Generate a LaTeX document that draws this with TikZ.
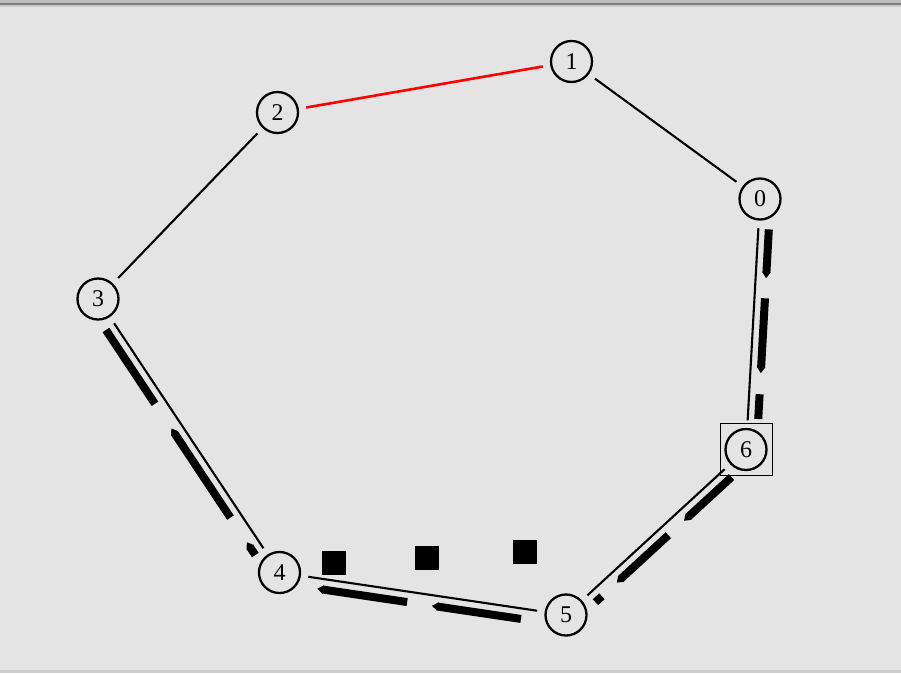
\documentclass[tikz,border=0pt]{standalone}
\usepackage{fontspec}
\setmainfont{Liberation Serif}
\usetikzlibrary{calc, arrows.meta}

\definecolor{panelbg}{HTML}{E4E4E4}
\definecolor{framelight}{HTML}{BDBDBD}
\definecolor{framedark}{HTML}{7F7F7F}
\definecolor{framebottom}{HTML}{CDCDCD}

% one thick stroke of a flow, offset to the right of the link
\newcommand\flowdash[5]{%
  \draw[flow,#5] ($(#1)!#3!(#2)!10.5pt!90:(#2)$) -- ($(#1)!#4!(#2)!10.5pt!90:(#2)$);}

\begin{document}
\begin{tikzpicture}[x=1pt,y=-1pt,
  station/.style={circle, draw=black, line width=2.3pt, minimum size=41pt, inner sep=0pt,
    font=\fontsize{24pt}{24pt}\selectfont},
  link/.style={line width=2.1pt, shorten <=7.5pt, shorten >=7.5pt},
  flow/.style={line width=8pt},
  pointed/.style={-{Triangle[length=6pt, width=0pt 1]}},
  token/.style={fill=black, minimum size=24pt, inner sep=0pt}]
\useasboundingbox (0,0) rectangle (901,673);
\fill[panelbg] (0,0) rectangle (901,673);
\fill[framelight] (0,0) rectangle (901,3);
\fill[framedark] (0,3) rectangle (901,5);
\fill[framelight!70!panelbg] (0,5) rectangle (901,7);
\fill[framebottom] (0,670) rectangle (901,673);

% stations
\node[station] (n0) at (760,199) {0};
\node[station] (n1) at (571.5,61.5) {1};
\node[station] (n2) at (277.5,112.5) {2};
\node[station] (n3) at (98,299) {3};
\node[station] (n4) at (279.5,572.5) {4};
\node[station] (n5) at (566,615) {5};
\node[station] (n6) at (746,449.5) {6};
\node[draw, line width=1pt, minimum size=52pt, inner sep=0pt] (sel) at (n6) {};

% links
\draw[link] (n0) -- (n1);
\draw[link, red, line width=2.6pt] (n1) -- (n2);
\draw[link] (n2) -- (n3);
\draw[link] (n3) -- (n4);
\draw[link] (n4) -- (n5);
\draw[link] (n5) -- (n6);
\draw[link] (n6) -- (n0);

% flows
\flowdash{n0}{n6}{0.119}{0.314}{pointed}
\flowdash{n0}{n6}{0.394}{0.693}{pointed}
\flowdash{n0}{n6}{0.777}{0.876}{}
\flowdash{n6}{n5}{0.12}{0.384}{pointed}
\flowdash{n6}{n5}{0.471}{0.758}{pointed}
\flowdash{n6}{n5}{0.84}{0.876}{}
\flowdash{n5}{n4}{0.152}{0.463}{pointed}
\flowdash{n5}{n4}{0.549}{0.863}{pointed}
\flowdash{n4}{n3}{0.085}{0.132}{pointed}
\flowdash{n4}{n3}{0.222}{0.548}{pointed}
\flowdash{n4}{n3}{0.638}{0.908}{}

% tokens
\node[token] (tok1) at (333.5,562.5) {};
\node[token] (tok2) at (427,557.5) {};
\node[token] (tok3) at (524.5,552) {};
\end{tikzpicture}
\end{document}
